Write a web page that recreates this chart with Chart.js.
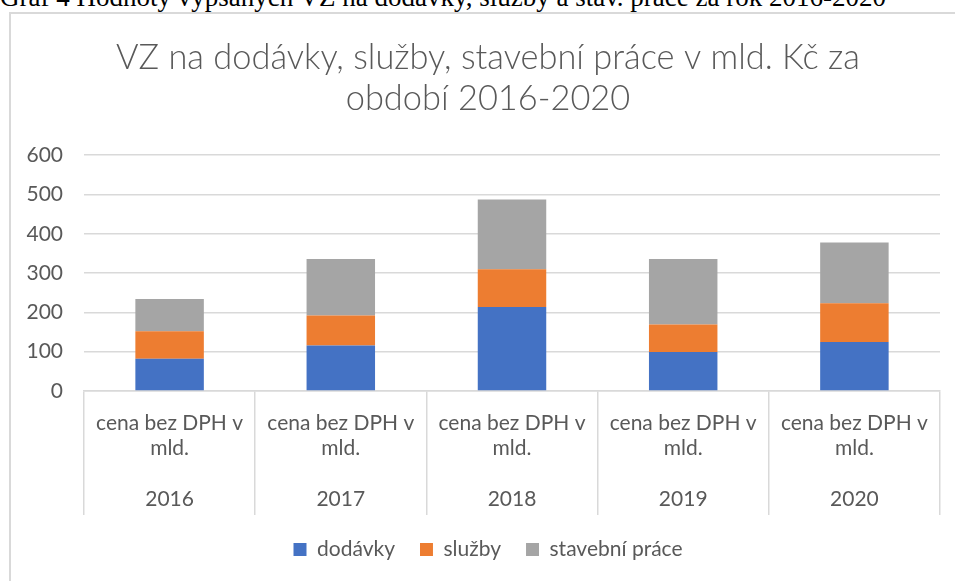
<!DOCTYPE html>
<html lang="cs">
<head>
<meta charset="utf-8">
<title>VZ na dodávky, služby, stavební práce</title>
<script src="https://cdn.jsdelivr.net/npm/chart.js@4.4.1/dist/chart.umd.min.js"></script>
<style>
  html, body { margin: 0; padding: 0; background: #fff; overflow: hidden; width: 955px; height: 581px; }
  .caption {
    position: absolute; left: 0; top: -16px;
    font-family: "Liberation Serif", "Times New Roman", serif;
    font-size: 27px; line-height: 27px; color: #000; white-space: nowrap;
  }
  .frame {
    position: absolute; left: 9px; top: 12px; width: 1000px; height: 620px;
    border-left: 2px solid #d9d9d9; border-top: 2px solid #d9d9d9;
  }
  #chart { position: absolute; left: 11px; top: 14px; }
</style>
</head>
<body>
<div class="caption">Graf 4 Hodnoty vypsaných VZ na dodávky, služby a stav. práce za rok 2016-2020</div>
<div class="frame"></div>
<canvas id="chart" width="954" height="556"></canvas>
<script>
const years = ["2016", "2017", "2018", "2019", "2020"];
const rowLabel = ["cena bez DPH v", "mld."];
const dodavky = [82, 116, 214, 99, 125];
const sluzby = [70, 76, 96, 70, 98];
const stavebniPrace = [82, 144, 177, 167, 155];
const yTicks = [0, 100, 200, 300, 400, 500, 600];

const textColor = "#595959";
const gridColor = "#d9d9d9";
const font = "Lato, 'Open Sans', sans-serif";

// each category: two lines of the inner label, a blank line, then the year
const labels = years.map((y) => [rowLabel[0], rowLabel[1], "", y]);

const ctx = document.getElementById("chart").getContext("2d");
new Chart(ctx, {
  type: "bar",
  data: {
    labels: labels,
    datasets: [
      { label: "dodávky", data: dodavky, backgroundColor: "#4472C4" },
      { label: "služby", data: sluzby, backgroundColor: "#ED7D31" },
      { label: "stavební práce", data: stavebniPrace, backgroundColor: "#A5A5A5" },
    ],
  },
  options: {
    responsive: false,
    animation: false,
    layout: { padding: 0 },
    datasets: {
      bar: { barPercentage: 0.4, categoryPercentage: 1.0, borderWidth: 0 },
    },
    scales: {
      x: {
        stacked: true,
        grid: {
          offset: true,
          drawOnChartArea: false,
          color: gridColor,
          lineWidth: 1.5,
          tickLength: 124,
        },
        border: { color: gridColor, width: 1.5 },
        ticks: {
          color: textColor,
          font: { family: font, size: 21, lineHeight: 1.215 },
          padding: -105,
          maxRotation: 0,
          autoSkip: false,
        },
        afterFit: (scale) => { scale.height = 123; },
      },
      y: {
        stacked: true,
        min: 0,
        max: 600,
        afterBuildTicks: (scale) => { scale.ticks = yTicks.map((v) => ({ value: v })); },
        grid: { color: gridColor, lineWidth: 1.5, drawTicks: false },
        border: { display: false },
        ticks: {
          color: textColor,
          font: { family: font, size: 21 },
          padding: 21,
        },
        afterFit: (scale) => { scale.width = 73; },
      },
      // empty right-hand box so the title and legend center like the original
      yRight: {
        position: "right",
        display: true,
        grid: { display: false },
        border: { display: false },
        ticks: { display: false },
        afterFit: (scale) => { scale.width = 25; },
      },
    },
    plugins: {
      title: {
        display: true,
        text: ["VZ na dodávky, služby, stavební práce v mld. Kč za", "období 2016-2020"],
        color: textColor,
        font: { family: font, size: 34.4, weight: 300, lineHeight: 41.6 / 34.4 },
        padding: { top: 23, bottom: 35 },
      },
      legend: {
        position: "bottom",
        labels: {
          color: textColor,
          font: { family: font, size: 21 },
          boxWidth: 13,
          boxHeight: 13,
          padding: 25,
        },
      },
      tooltip: { enabled: false },
    },
  },
});
</script>
</body>
</html>
